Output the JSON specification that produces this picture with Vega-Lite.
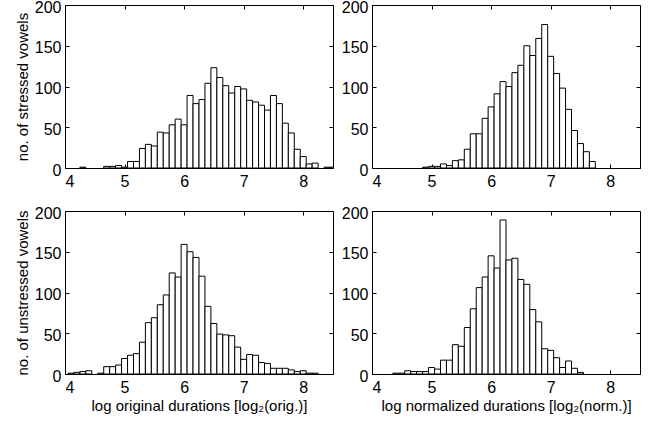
{
  "$schema": "https://vega.github.io/schema/vega-lite/v6.json",
  "background": "white",
  "padding": {"left": 14, "top": -2, "right": 5, "bottom": 5},
  "config": {
    "font": "Liberation Sans",
    "view": {"stroke": "black", "strokeWidth": 1},
    "axis": {"grid": false, "domainColor": "black", "tickColor": "black", "labelColor": "black", "titleColor": "black", "labelFont": "Liberation Sans", "titleFont": "Liberation Sans", "labelFontSize": 16, "titleFontSize": 15, "titleFontWeight": "normal", "tickSize": -4, "labelPadding": 8},
    "axisX": {"labelPadding": 9},
    "axisY": {"labelOffset": 2}
  },
  "datasets": {
    "so": [
      {"lo": 4.25, "hi": 4.35, "n": 1}, {"lo": 4.65, "hi": 4.75, "n": 2}, {"lo": 4.75, "hi": 4.85, "n": 2}, {"lo": 4.85, "hi": 4.95, "n": 3}, {"lo": 4.95, "hi": 5.05, "n": 1},
      {"lo": 5.05, "hi": 5.15, "n": 8}, {"lo": 5.15, "hi": 5.25, "n": 8}, {"lo": 5.25, "hi": 5.35, "n": 24}, {"lo": 5.35, "hi": 5.45, "n": 29}, {"lo": 5.45, "hi": 5.55, "n": 27},
      {"lo": 5.55, "hi": 5.65, "n": 44}, {"lo": 5.65, "hi": 5.75, "n": 43}, {"lo": 5.75, "hi": 5.85, "n": 53}, {"lo": 5.85, "hi": 5.95, "n": 60}, {"lo": 5.95, "hi": 6.05, "n": 53},
      {"lo": 6.05, "hi": 6.15, "n": 89}, {"lo": 6.15, "hi": 6.25, "n": 79}, {"lo": 6.25, "hi": 6.35, "n": 84}, {"lo": 6.35, "hi": 6.45, "n": 104}, {"lo": 6.45, "hi": 6.55, "n": 123},
      {"lo": 6.55, "hi": 6.65, "n": 111}, {"lo": 6.65, "hi": 6.75, "n": 101}, {"lo": 6.75, "hi": 6.85, "n": 92}, {"lo": 6.85, "hi": 6.95, "n": 100}, {"lo": 6.95, "hi": 7.05, "n": 97},
      {"lo": 7.05, "hi": 7.15, "n": 83}, {"lo": 7.15, "hi": 7.25, "n": 81}, {"lo": 7.25, "hi": 7.35, "n": 77}, {"lo": 7.35, "hi": 7.45, "n": 71}, {"lo": 7.45, "hi": 7.55, "n": 89},
      {"lo": 7.55, "hi": 7.65, "n": 79}, {"lo": 7.65, "hi": 7.75, "n": 55}, {"lo": 7.75, "hi": 7.85, "n": 43}, {"lo": 7.85, "hi": 7.95, "n": 23}, {"lo": 7.95, "hi": 8.05, "n": 14},
      {"lo": 8.05, "hi": 8.15, "n": 5}, {"lo": 8.15, "hi": 8.25, "n": 6}, {"lo": 8.35, "hi": 8.45, "n": 1}, {"lo": 8.45, "hi": 8.55, "n": 1}
    ],
    "sn": [
      {"lo": 4.85, "hi": 4.95, "n": 1}, {"lo": 4.95, "hi": 5.05, "n": 2}, {"lo": 5.05, "hi": 5.15, "n": 2}, {"lo": 5.15, "hi": 5.25, "n": 5}, {"lo": 5.25, "hi": 5.35, "n": 3},
      {"lo": 5.35, "hi": 5.45, "n": 9}, {"lo": 5.45, "hi": 5.55, "n": 10}, {"lo": 5.55, "hi": 5.65, "n": 23}, {"lo": 5.65, "hi": 5.75, "n": 42}, {"lo": 5.75, "hi": 5.85, "n": 42},
      {"lo": 5.85, "hi": 5.95, "n": 61}, {"lo": 5.95, "hi": 6.05, "n": 75}, {"lo": 6.05, "hi": 6.15, "n": 91}, {"lo": 6.15, "hi": 6.25, "n": 106}, {"lo": 6.25, "hi": 6.35, "n": 100},
      {"lo": 6.35, "hi": 6.45, "n": 117}, {"lo": 6.45, "hi": 6.55, "n": 126}, {"lo": 6.55, "hi": 6.65, "n": 150}, {"lo": 6.65, "hi": 6.75, "n": 138}, {"lo": 6.75, "hi": 6.85, "n": 159},
      {"lo": 6.85, "hi": 6.95, "n": 176}, {"lo": 6.95, "hi": 7.05, "n": 137}, {"lo": 7.05, "hi": 7.15, "n": 116}, {"lo": 7.15, "hi": 7.25, "n": 98}, {"lo": 7.25, "hi": 7.35, "n": 72},
      {"lo": 7.35, "hi": 7.45, "n": 46}, {"lo": 7.45, "hi": 7.55, "n": 30}, {"lo": 7.55, "hi": 7.65, "n": 20}, {"lo": 7.65, "hi": 7.75, "n": 8}
    ],
    "uo": [
      {"lo": 4.05, "hi": 4.15, "n": 1}, {"lo": 4.15, "hi": 4.25, "n": 2}, {"lo": 4.25, "hi": 4.35, "n": 3}, {"lo": 4.35, "hi": 4.45, "n": 4}, {"lo": 4.55, "hi": 4.65, "n": 1},
      {"lo": 4.65, "hi": 4.75, "n": 9}, {"lo": 4.75, "hi": 4.85, "n": 9}, {"lo": 4.85, "hi": 4.95, "n": 11}, {"lo": 4.95, "hi": 5.05, "n": 19}, {"lo": 5.05, "hi": 5.15, "n": 23},
      {"lo": 5.15, "hi": 5.25, "n": 25}, {"lo": 5.25, "hi": 5.35, "n": 39}, {"lo": 5.35, "hi": 5.45, "n": 63}, {"lo": 5.45, "hi": 5.55, "n": 69}, {"lo": 5.55, "hi": 5.65, "n": 85},
      {"lo": 5.65, "hi": 5.75, "n": 97}, {"lo": 5.75, "hi": 5.85, "n": 124}, {"lo": 5.85, "hi": 5.95, "n": 119}, {"lo": 5.95, "hi": 6.05, "n": 159}, {"lo": 6.05, "hi": 6.15, "n": 150},
      {"lo": 6.15, "hi": 6.25, "n": 143}, {"lo": 6.25, "hi": 6.35, "n": 120}, {"lo": 6.35, "hi": 6.45, "n": 83}, {"lo": 6.45, "hi": 6.55, "n": 62}, {"lo": 6.55, "hi": 6.65, "n": 49},
      {"lo": 6.65, "hi": 6.75, "n": 48}, {"lo": 6.75, "hi": 6.85, "n": 47}, {"lo": 6.85, "hi": 6.95, "n": 33}, {"lo": 6.95, "hi": 7.05, "n": 18}, {"lo": 7.05, "hi": 7.15, "n": 24},
      {"lo": 7.15, "hi": 7.25, "n": 23}, {"lo": 7.25, "hi": 7.35, "n": 14}, {"lo": 7.35, "hi": 7.45, "n": 13}, {"lo": 7.45, "hi": 7.55, "n": 7}, {"lo": 7.55, "hi": 7.65, "n": 7},
      {"lo": 7.65, "hi": 7.75, "n": 7}, {"lo": 7.75, "hi": 7.85, "n": 5}, {"lo": 7.85, "hi": 7.95, "n": 3}, {"lo": 7.95, "hi": 8.05, "n": 4}, {"lo": 8.05, "hi": 8.15, "n": 1},
      {"lo": 8.15, "hi": 8.25, "n": 1}
    ],
    "un": [
      {"lo": 4.35, "hi": 4.45, "n": 1}, {"lo": 4.45, "hi": 4.55, "n": 1}, {"lo": 4.55, "hi": 4.65, "n": 4}, {"lo": 4.65, "hi": 4.75, "n": 3}, {"lo": 4.75, "hi": 4.85, "n": 3},
      {"lo": 4.85, "hi": 4.95, "n": 3}, {"lo": 4.95, "hi": 5.05, "n": 8}, {"lo": 5.05, "hi": 5.15, "n": 6}, {"lo": 5.15, "hi": 5.25, "n": 17}, {"lo": 5.25, "hi": 5.35, "n": 17},
      {"lo": 5.35, "hi": 5.45, "n": 36}, {"lo": 5.45, "hi": 5.55, "n": 34}, {"lo": 5.55, "hi": 5.65, "n": 57}, {"lo": 5.65, "hi": 5.75, "n": 80}, {"lo": 5.75, "hi": 5.85, "n": 106},
      {"lo": 5.85, "hi": 5.95, "n": 119}, {"lo": 5.95, "hi": 6.05, "n": 145}, {"lo": 6.05, "hi": 6.15, "n": 130}, {"lo": 6.15, "hi": 6.25, "n": 189}, {"lo": 6.25, "hi": 6.35, "n": 140},
      {"lo": 6.35, "hi": 6.45, "n": 142}, {"lo": 6.45, "hi": 6.55, "n": 116}, {"lo": 6.55, "hi": 6.65, "n": 110}, {"lo": 6.65, "hi": 6.75, "n": 79}, {"lo": 6.75, "hi": 6.85, "n": 64},
      {"lo": 6.85, "hi": 6.95, "n": 31}, {"lo": 6.95, "hi": 7.05, "n": 29}, {"lo": 7.05, "hi": 7.15, "n": 20}, {"lo": 7.15, "hi": 7.25, "n": 8}, {"lo": 7.25, "hi": 7.35, "n": 16},
      {"lo": 7.35, "hi": 7.45, "n": 7}, {"lo": 7.45, "hi": 7.55, "n": 2}
    ]
  },
  "columns": 2,
  "bounds": "flush",
  "spacing": {"row": 43, "column": 39},
  "concat": [
    {
      "width": 268, "height": 163,
      "data": {"name": "so"},
      "layer": [
        {"mark": {"type": "bar", "fill": "white", "stroke": "black", "strokeWidth": 1, "clip": true},
         "encoding": {
           "x": {"field": "lo", "type": "quantitative", "scale": {"domain": [4, 8.5], "nice": false, "zero": false}, "axis": {"orient": "bottom", "values": [4, 5, 6, 7, 8], "title": null}},
           "x2": {"field": "hi"},
           "y": {"field": "n", "type": "quantitative", "scale": {"domain": [0, 200], "nice": false}, "axis": {"orient": "left", "values": [0, 50, 100, 150, 200], "title": "no. of stressed vowels", "titlePadding": 4}},
           "y2": {"datum": 0}}},
        {"mark": {"type": "point", "opacity": 0},
         "encoding": {
           "x": {"field": "lo", "type": "quantitative", "axis": {"orient": "top", "values": [4, 5, 6, 7, 8], "labels": false, "title": null, "domain": false}},
           "y": {"field": "n", "type": "quantitative", "axis": {"orient": "right", "values": [0, 50, 100, 150, 200], "labels": false, "title": null, "domain": false}}}}
      ],
      "resolve": {"axis": {"x": "independent", "y": "independent"}}
    },
    {
      "width": 268, "height": 163,
      "data": {"name": "sn"},
      "layer": [
        {"mark": {"type": "bar", "fill": "white", "stroke": "black", "strokeWidth": 1, "clip": true},
         "encoding": {
           "x": {"field": "lo", "type": "quantitative", "scale": {"domain": [4, 8.5], "nice": false, "zero": false}, "axis": {"orient": "bottom", "values": [4, 5, 6, 7, 8], "title": null}},
           "x2": {"field": "hi"},
           "y": {"field": "n", "type": "quantitative", "scale": {"domain": [0, 200], "nice": false}, "axis": {"orient": "left", "values": [0, 50, 100, 150, 200], "title": null}},
           "y2": {"datum": 0}}},
        {"mark": {"type": "point", "opacity": 0},
         "encoding": {
           "x": {"field": "lo", "type": "quantitative", "axis": {"orient": "top", "values": [4, 5, 6, 7, 8], "labels": false, "title": null, "domain": false}},
           "y": {"field": "n", "type": "quantitative", "axis": {"orient": "right", "values": [0, 50, 100, 150, 200], "labels": false, "title": null, "domain": false}}}}
      ],
      "resolve": {"axis": {"x": "independent", "y": "independent"}}
    },
    {
      "width": 268, "height": 163,
      "data": {"name": "uo"},
      "layer": [
        {"mark": {"type": "bar", "fill": "white", "stroke": "black", "strokeWidth": 1, "clip": true},
         "encoding": {
           "x": {"field": "lo", "type": "quantitative", "scale": {"domain": [4, 8.5], "nice": false, "zero": false}, "axis": {"orient": "bottom", "values": [4, 5, 6, 7, 8], "title": "log original durations [log₂(orig.)]", "titlePadding": 3}},
           "x2": {"field": "hi"},
           "y": {"field": "n", "type": "quantitative", "scale": {"domain": [0, 200], "nice": false}, "axis": {"orient": "left", "values": [0, 50, 100, 150, 200], "title": "no. of unstressed vowels", "titlePadding": 4}},
           "y2": {"datum": 0}}},
        {"mark": {"type": "point", "opacity": 0},
         "encoding": {
           "x": {"field": "lo", "type": "quantitative", "axis": {"orient": "top", "values": [4, 5, 6, 7, 8], "labels": false, "title": null, "domain": false}},
           "y": {"field": "n", "type": "quantitative", "axis": {"orient": "right", "values": [0, 50, 100, 150, 200], "labels": false, "title": null, "domain": false}}}}
      ],
      "resolve": {"axis": {"x": "independent", "y": "independent"}}
    },
    {
      "width": 268, "height": 163,
      "data": {"name": "un"},
      "layer": [
        {"mark": {"type": "bar", "fill": "white", "stroke": "black", "strokeWidth": 1, "clip": true},
         "encoding": {
           "x": {"field": "lo", "type": "quantitative", "scale": {"domain": [4, 8.5], "nice": false, "zero": false}, "axis": {"orient": "bottom", "values": [4, 5, 6, 7, 8], "title": "log normalized durations [log₂(norm.)]", "titlePadding": 3}},
           "x2": {"field": "hi"},
           "y": {"field": "n", "type": "quantitative", "scale": {"domain": [0, 200], "nice": false}, "axis": {"orient": "left", "values": [0, 50, 100, 150, 200], "title": null}},
           "y2": {"datum": 0}}},
        {"mark": {"type": "point", "opacity": 0},
         "encoding": {
           "x": {"field": "lo", "type": "quantitative", "axis": {"orient": "top", "values": [4, 5, 6, 7, 8], "labels": false, "title": null, "domain": false}},
           "y": {"field": "n", "type": "quantitative", "axis": {"orient": "right", "values": [0, 50, 100, 150, 200], "labels": false, "title": null, "domain": false}}}}
      ],
      "resolve": {"axis": {"x": "independent", "y": "independent"}}
    }
  ]
}
